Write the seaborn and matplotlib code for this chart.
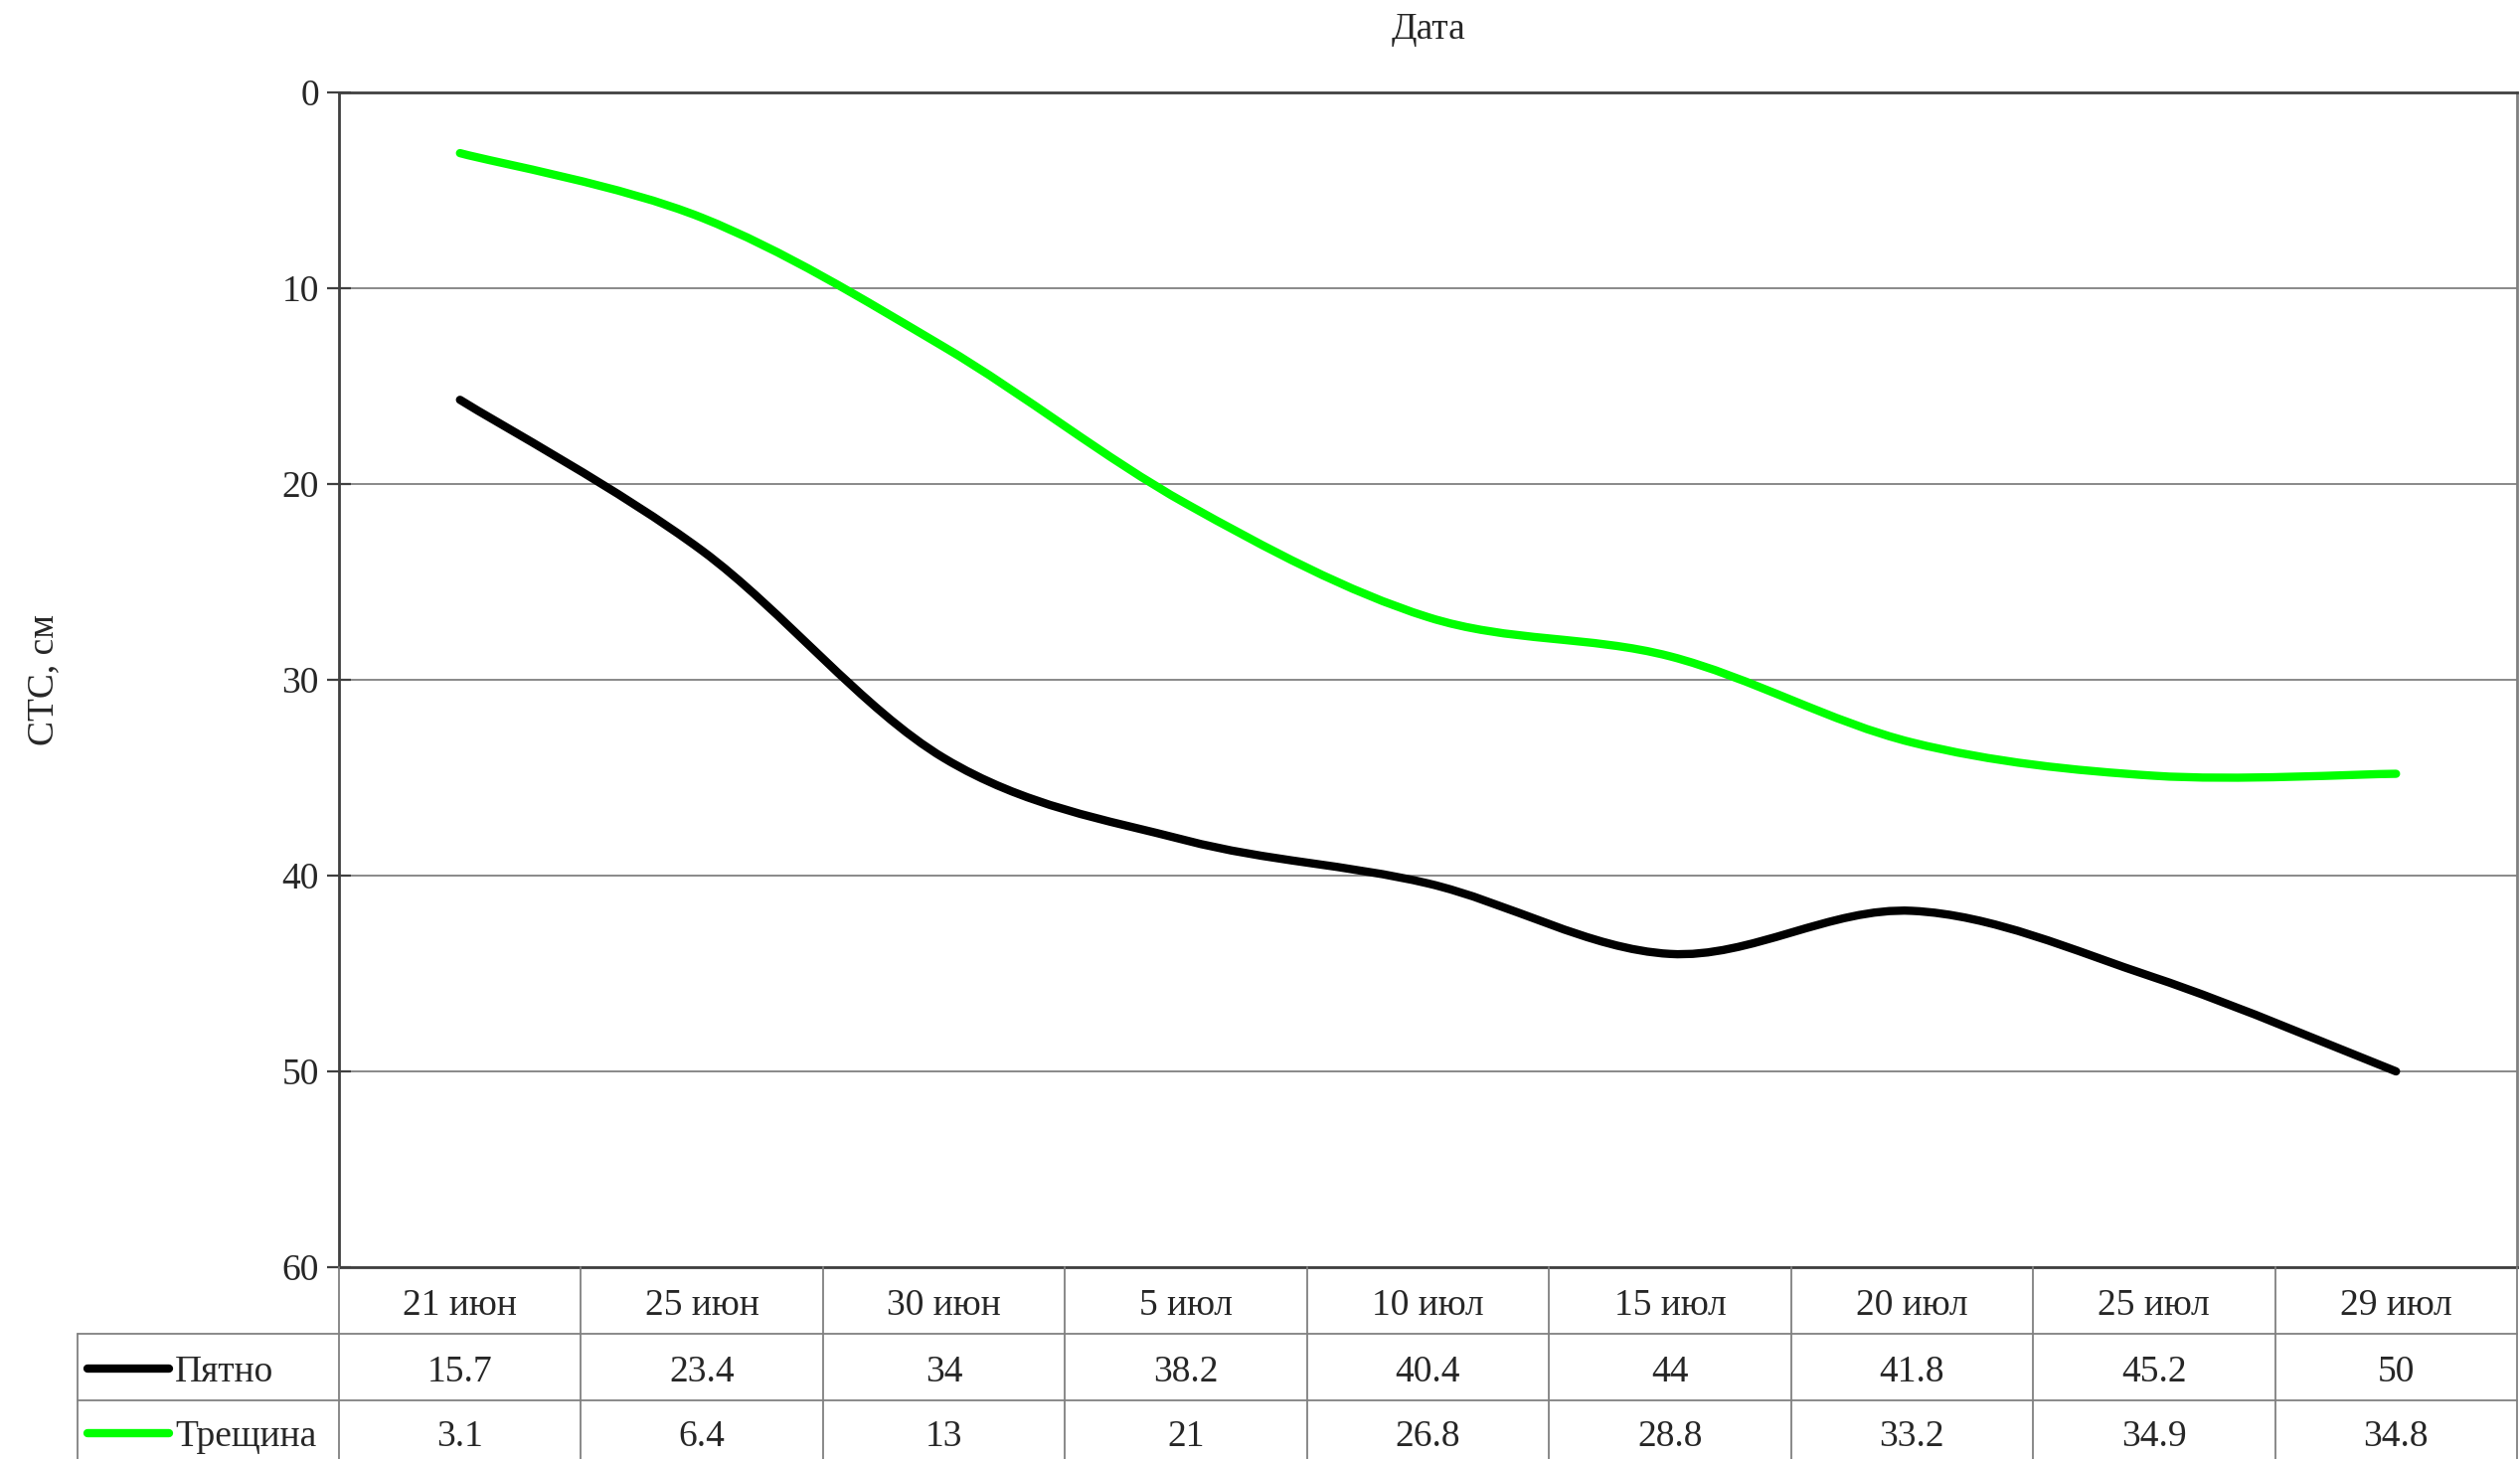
import numpy as np
import matplotlib
matplotlib.use("Agg")
import matplotlib.pyplot as plt
import seaborn as sns
from matplotlib.path import Path
from matplotlib.patches import PathPatch
from matplotlib.lines import Line2D
from matplotlib.transforms import blended_transform_factory

# ---- data ----
dates = ["21 июн", "25 июн", "30 июн", "5 июл", "10 июл",
         "15 июл", "20 июл", "25 июл", "29 июл"]
spot = [15.7, 23.4, 34, 38.2, 40.4, 44, 41.8, 45.2, 50]        # Пятно
crack = [3.1, 6.4, 13, 21, 26.8, 28.8, 33.2, 34.9, 34.8]       # Трещина
series_names = ["Пятно", "Трещина"]
series_colors = ["#000000", "#00FF00"]

y_ticks = [0, 10, 20, 30, 40, 50, 60]

# ---- style ----
sns.set_theme(style="white")
plt.rcParams["font.family"] = ["Liberation Serif", "DejaVu Serif"]
FS = 27

W, H = 2535, 1468
fig = plt.figure(figsize=(W / 100, H / 100), dpi=100)
fig.patch.set_facecolor("white")

# plot-area box in pixels
PL, PR, PT, PB = 341, 2532, 93, 1275
ax = fig.add_axes([PL / W, 1 - PB / H, (PR - PL) / W, (PB - PT) / H])
ax.set_facecolor("white")

n = len(dates)
xpos = np.arange(n)
ax.set_xlim(-0.5, n - 0.5)
ax.set_ylim(60, 0)
ax.set_yticks(y_ticks)
ax.set_yticklabels([str(t) for t in y_ticks], fontsize=FS)
ax.set_xticks([])
ax.yaxis.grid(True, color="#808080", linewidth=1.3)
ax.xaxis.grid(False)
ax.tick_params(axis="y", direction="inout", length=17, width=1.6,
               color="#404040", pad=6, left=True)
for side, sp in ax.spines.items():
    sp.set_visible(True)
    sp.set_color("#404040")
    sp.set_linewidth(2.0)
ax.spines["right"].set_color("#808080")


def smooth_path(xs, ys):
    """Cubic Bezier path through the points (Catmull-Rom style control points)."""
    pts = np.column_stack([xs, ys]).astype(float)
    m = len(pts)
    verts = [pts[0]]
    codes = [Path.MOVETO]
    for i in range(m - 1):
        p0 = pts[max(i - 1, 0)]
        p1 = pts[i]
        p2 = pts[i + 1]
        p3 = pts[min(i + 2, m - 1)]
        c1 = p1 + (p2 - p0) / 6.0
        c2 = p2 - (p3 - p1) / 6.0
        verts += [c1, c2, p2]
        codes += [Path.CURVE4] * 3
    return Path(verts, codes)


for vals, col in zip([spot, crack], series_colors):
    patch = PathPatch(smooth_path(xpos, vals), facecolor="none", edgecolor=col,
                      linewidth=6.0, capstyle="round", joinstyle="round", zorder=3)
    ax.add_patch(patch)

# ---- title and axis label ----
fig.text((PL + PR) / 2 / W, 1 - 30 / H, "Дата", ha="center", va="center", fontsize=FS)
fig.text(44 / W, 1 - (PT + PB) / 2 / H, "СТС, см", ha="center", va="center",
         rotation=90, fontsize=FS)

# ---- data table below the plot ----
tr = blended_transform_factory(ax.transData, fig.transFigure)
tf = fig.transFigure
grid_col = "#808080"
table_lw = 1.3

ROW1, ROW2, BOT = 1342, 1409, H + 10
TL = 78


def fy(py):
    return 1 - py / H


# vertical column separators
for i in range(n + 1):
    fig.add_artist(Line2D([i - 0.5, i - 0.5], [fy(PB), fy(BOT)], transform=tr,
                          color=grid_col, linewidth=table_lw))
# label column left edge
fig.add_artist(Line2D([TL / W, TL / W], [fy(ROW1), fy(BOT)], transform=tf,
                      color=grid_col, linewidth=table_lw))
# horizontal row lines
for py in (ROW1, ROW2):
    fig.add_artist(Line2D([TL / W, PR / W], [fy(py), fy(py)], transform=tf,
                          color=grid_col, linewidth=table_lw))

# header row: dates
for i, d in enumerate(dates):
    fig.text(i, fy((PB + ROW1) / 2 + 5), d, transform=tr, ha="center", va="center",
             fontsize=FS)

# value rows with legend keys
row_centers = [(ROW1 + ROW2) / 2 + 5, 1446]
for vals, name, col, yc in zip([spot, crack], series_names, series_colors, row_centers):
    fig.add_artist(Line2D([88 / W, 170 / W], [fy(yc - 4), fy(yc - 4)], transform=tf,
                          color=col, linewidth=6.0, solid_capstyle="round"))
    fig.text(176 / W, fy(yc), name, transform=tf, ha="left", va="center", fontsize=FS)
    for i, v in enumerate(vals):
        fig.text(i, fy(yc), f"{v:g}", transform=tr, ha="center", va="center",
                 fontsize=FS)

fig.savefig("out.png", dpi=100, facecolor="white")
